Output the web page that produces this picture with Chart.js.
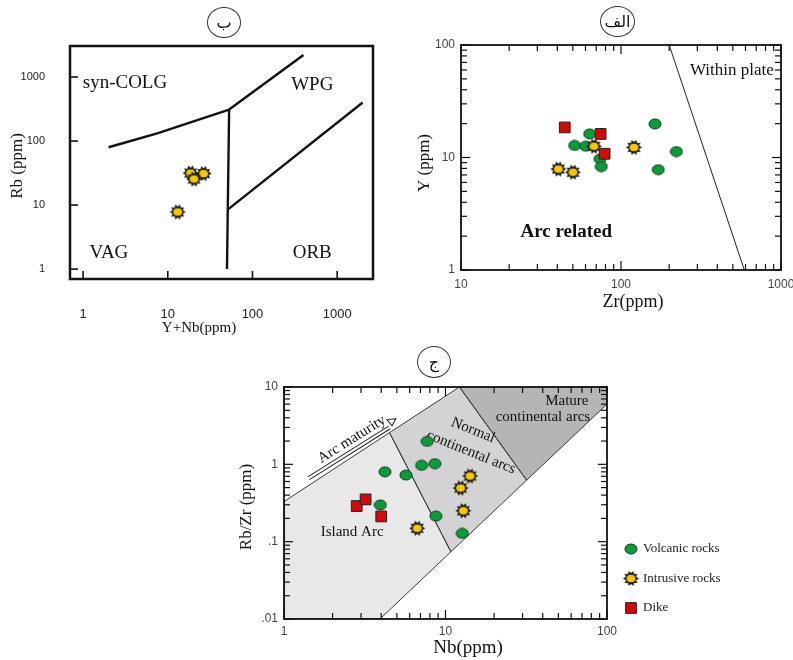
<!DOCTYPE html>
<html>
<head>
<meta charset="utf-8">
<script src="https://cdn.jsdelivr.net/npm/chart.js@4.4.1/dist/chart.umd.min.js"></script>
<style>
  html, body { margin: 0; padding: 0; background: #fff; }
  #wrap { position: relative; width: 793px; height: 660px; overflow: hidden; }
  canvas { position: absolute; }
  .tag { position: absolute; box-sizing: border-box; border: 1.3px solid #333; border-radius: 50%;
         display: flex; align-items: center; justify-content: center;
         font-family: "DejaVu Sans", sans-serif; font-size: 16px; color: #111; }
</style>
</head>
<body>
<div id="wrap">
  <canvas id="c1" width="400" height="340" style="left:0;top:0"></canvas>
  <canvas id="c2" width="393" height="330" style="left:400px;top:0"></canvas>
  <canvas id="c3" width="573" height="320" style="left:220px;top:340px"></canvas>
  <div class="tag" style="left:207px;top:7px;width:34px;height:31px">ب</div>
  <div class="tag" dir="rtl" style="left:600px;top:6px;width:35px;height:31px">الف</div>
  <div class="tag" style="left:417px;top:346px;width:34px;height:32px">ج</div>
</div>
<script>
// chart ب : Rb vs Y+Nb
const pearceIntrusive = [[18.6, 31.6], [26.5, 31], [20.4, 25.5], [13.1, 7.8]];
const pearceColgVag = [[2, 80], [7.5, 132], [53, 310]];
const pearceWpgColg = [[53, 310], [400, 2200]];
const pearceVagWpg = [[50, 1], [53, 310]];
const pearceOrbWpg = [[51, 8.5], [2000, 400]];
const pearceXTicks = [1, 10, 100, 1000];
const pearceYTicks = [1, 10, 100, 1000];

// chart الف : Y vs Zr
const zrVolcanic = [[63.7, 16.2], [51.3, 12.8], [60.2, 12.6], [74, 9.7], [75.3, 8.3], [163, 19.9], [222, 11.3], [171, 7.8]];
const zrIntrusive = [[67.8, 12.6], [120.5, 12.3], [40.6, 7.9], [50.1, 7.4]];
const zrDike = [[44.5, 18.5], [74.6, 16.2], [79, 10.8]];
const zrBoundary = [[200, 100], [590, 1]];
const zrXTicks = [10, 100, 1000];
const zrYTicks = [1, 10, 100];

// chart ج : Rb/Zr vs Nb
const nbVolcanic = [[4.22, 0.8], [5.69, 0.727], [3.95, 0.298], [7.7, 1.98], [7.11, 0.97], [8.6, 1.02], [8.72, 0.214], [12.7, 0.128]];
const nbIntrusive = [[14.2, 0.706], [12.4, 0.494], [12.9, 0.251], [6.68, 0.149]];
const nbDike = [[2.82, 0.289], [3.2, 0.352], [4.0, 0.212]];
const nbIslandArc = [[1, 0.01], [3.93, 0.01], [10.8, 0.074], [4.5, 2.57], [1, 0.33], [1, 0.01]];
const nbNormalArc = [[4.5, 2.57], [12.2, 10], [31.8, 0.623], [10.8, 0.074], [4.5, 2.57]];
const nbMatureArc = [[12.2, 10], [100, 10], [100, 6], [31.8, 0.623], [12.2, 10]];
const nbXTicks = [1, 10, 100];
const nbYTicks = [0.01, 0.1, 1, 10];

const seriesNames = ['Volcanic rocks', 'Intrusive rocks', 'Dike'];

const SERIF = '"Liberation Serif", "Times New Roman", serif';
const SANS = '"Liberation Sans", Arial, sans-serif';

const pts = a => a.map(([x, y]) => ({ x, y }));

function starMarker() {
    const c = document.createElement('canvas'); c.width = c.height = 17;
    const g = c.getContext('2d'), cx = 8.5, cy = 8.5;
    g.beginPath();
    for (let i = 0; i < 20; i++) {
        const r = i % 2 ? 5.4 : 8, t = i * Math.PI / 10;
        g.lineTo(cx + r * Math.cos(t), cy + r * Math.sin(t));
    }
    g.closePath(); g.fillStyle = '#1d1d1d'; g.fill();
    g.beginPath(); g.ellipse(cx, cy, 4.4, 3.8, 0, 0, Math.PI * 2);
    g.fillStyle = '#f4c800'; g.fill();
    return c;
}
function dotMarker() {
    const c = document.createElement('canvas'); c.width = 14; c.height = 12;
    const g = c.getContext('2d');
    g.beginPath(); g.ellipse(7, 6, 6, 5, 0, 0, Math.PI * 2);
    g.fillStyle = '#0b9b3b'; g.fill();
    g.lineWidth = 1; g.strokeStyle = '#0b3b18'; g.stroke();
    return c;
}
const STAR = starMarker(), DOT = dotMarker();

function volcanic(data) { return { label: seriesNames[0], data: pts(data), pointStyle: DOT, pointRadius: 6, order: 3 }; }
function intrusive(data) { return { label: seriesNames[1], data: pts(data), pointStyle: STAR, pointRadius: 7, order: 2 }; }
function dike(data) {
    return { label: seriesNames[2], data: pts(data), pointStyle: 'rect', pointRadius: 7.6,
        backgroundColor: '#d20a0a', borderColor: '#222', borderWidth: 1, order: 1 };
}
function line(data, w, color) {
    return { data: pts(data), showLine: true, pointRadius: 0, borderColor: color, borderWidth: w, fill: false, order: 4 };
}
function area(data, color) {
    return { data: pts(data), showLine: true, pointRadius: 0, borderColor: '#3a3a3a', borderWidth: 1,
        backgroundColor: color, fill: 'shape', order: 5 };
}

function logAxis(o) {
    return {
        type: 'logarithmic', min: o.min, max: o.max,
        grid: { display: false, drawTicks: false }, border: { display: false },
        afterBuildTicks: s => { s.ticks = o.ticks.map(v => ({ value: v })); },
        afterFit: s => {
            if (s.isHorizontal()) s.height = o.size; else s.width = o.size;
            s.paddingLeft = s.paddingRight = s.paddingTop = s.paddingBottom = 0;
        },
        ticks: { padding: o.pad, autoSkip: false, maxRotation: 0, minRotation: 0, color: o.color || '#222',
            font: { family: SANS, size: o.font }, callback: o.fmt || (v => String(v)) }
    };
}

function logMarks(sc, minor) {
    const out = [];
    const lo = Math.floor(Math.log10(sc.min)), hi = Math.ceil(Math.log10(sc.max));
    for (let e = lo; e <= hi; e++) {
        for (let m = 1; m <= 9; m++) {
            if (m > 1 && !minor) continue;
            const v = m * Math.pow(10, e);
            if (v < sc.min * 0.999 || v > sc.max * 1.001) continue;
            out.push([v, m === 1]);
        }
    }
    return out;
}

const decor = {
    id: 'decor',
    beforeDatasetsDraw(chart, args, o) {
        const { ctx, scales: { x, y } } = chart;
        (o.notes || []).forEach(n => {
            ctx.save();
            ctx.font = `${n.bold ? 'bold ' : ''}${n.size}px ${SERIF}`;
            ctx.fillStyle = '#111'; ctx.textAlign = 'center'; ctx.textBaseline = 'middle';
            ctx.translate(x.getPixelForValue(n.at[0]), y.getPixelForValue(n.at[1]));
            ctx.rotate((n.rot || 0) * Math.PI / 180);
            ctx.fillText(n.text, 0, 0);
            ctx.restore();
        });
    },
    afterDatasetsDraw(chart, args, o) {
        const { ctx, chartArea: a, scales: { x, y } } = chart;
        ctx.save();
        ctx.strokeStyle = '#111'; ctx.lineWidth = o.tickWidth || 1.2;
        (o.tickSides || []).forEach(side => {
            const horiz = side === 'top' || side === 'bottom';
            const sc = horiz ? x : y;
            logMarks(sc, o.minor).forEach(([v, major]) => {
                const p = sc.getPixelForValue(v), len = major ? o.majorLen : o.minorLen;
                ctx.beginPath();
                if (side === 'bottom') { ctx.moveTo(p, a.bottom); ctx.lineTo(p, a.bottom - len); }
                if (side === 'top') { ctx.moveTo(p, a.top); ctx.lineTo(p, a.top + len); }
                if (side === 'left') { ctx.moveTo(a.left, p); ctx.lineTo(a.left + len, p); }
                if (side === 'right') { ctx.moveTo(a.right, p); ctx.lineTo(a.right - len, p); }
                ctx.stroke();
            });
        });
        ctx.lineWidth = o.frame;
        ctx.strokeRect(a.left, a.top, a.right - a.left, a.bottom - a.top);

        if (o.arrow) {
            const x0 = x.getPixelForValue(o.arrow.from[0]), y0 = y.getPixelForValue(o.arrow.from[1]);
            const x1 = x.getPixelForValue(o.arrow.to[0]), y1 = y.getPixelForValue(o.arrow.to[1]);
            const ang = Math.atan2(y1 - y0, x1 - x0), len = Math.hypot(x1 - x0, y1 - y0);
            ctx.save();
            ctx.translate(x0, y0); ctx.rotate(ang);
            ctx.lineWidth = 1; ctx.strokeStyle = '#222';
            ctx.beginPath();
            ctx.moveTo(0, -1.6); ctx.lineTo(len, -1.6);
            ctx.moveTo(0, 1.6); ctx.lineTo(len, 1.6);
            ctx.stroke();
            ctx.beginPath();
            ctx.moveTo(len + 10, -4); ctx.lineTo(len + 2, -8); ctx.lineTo(len + 3, 0); ctx.closePath();
            ctx.stroke();
            ctx.font = `15px ${SERIF}`; ctx.fillStyle = '#111';
            ctx.textAlign = 'center'; ctx.textBaseline = 'alphabetic';
            ctx.fillText(o.arrow.text, len * 0.6, -6);
            ctx.restore();
        }

        (o.titles || []).forEach(t => {
            ctx.save();
            ctx.font = `${t.size}px ${SERIF}`; ctx.fillStyle = '#111';
            ctx.textAlign = 'center'; ctx.textBaseline = 'middle';
            ctx.translate(t.px, t.py); ctx.rotate((t.rot || 0) * Math.PI / 180);
            ctx.fillText(t.text, 0, 0);
            ctx.restore();
        });

        if (o.legend) {
            const L = o.legend;
            seriesNames.forEach((name, i) => {
                const ds = chart.data.datasets.find(d => d.label === name);
                if (!ds) return;
                const px = L.x, py = L.y + i * L.gap;
                ctx.save();
                ctx.fillStyle = ds.backgroundColor || '#000';
                ctx.strokeStyle = ds.borderColor || '#000';
                ctx.lineWidth = ds.borderWidth || 1;
                if (Chart.helpers && Chart.helpers.drawPoint) {
                    Chart.helpers.drawPoint(ctx, { pointStyle: ds.pointStyle, radius: ds.pointRadius,
                        borderWidth: ds.borderWidth || 0, rotation: 0 }, px, py);
                } else if (typeof ds.pointStyle === 'object') {
                    ctx.drawImage(ds.pointStyle, px - ds.pointStyle.width / 2, py - ds.pointStyle.height / 2);
                }
                ctx.restore();
                ctx.font = `13px ${SERIF}`; ctx.fillStyle = '#222';
                ctx.textAlign = 'left'; ctx.textBaseline = 'middle';
                ctx.fillText(name, px + 12, py);
            });
        }
        ctx.restore();
    }
};

function makeChart(id, datasets, scales, padding, deco) {
    return new Chart(document.getElementById(id), {
        type: 'scatter',
        data: { datasets },
        options: {
            responsive: false, animation: false, events: [],
            layout: { padding },
            scales,
            plugins: { legend: { display: false }, tooltip: { enabled: false },
                filler: { drawTime: 'beforeDraw' }, decor: deco }
        },
        plugins: [decor]
    });
}

// ب
makeChart('c1', [
    intrusive(pearceIntrusive),
    line(pearceColgVag, 2.4, '#111'),
    line(pearceWpgColg, 2.4, '#111'),
    line(pearceVagWpg, 2.4, '#111'),
    line(pearceOrbWpg, 2.4, '#111')
], {
    x: logAxis({ min: 0.72, max: 2650, ticks: pearceXTicks, size: 61, pad: 28, font: 13 }),
    y: logAxis({ min: 0.7, max: 3050, ticks: pearceYTicks, size: 70, pad: 25, font: 11 })
}, { top: 46, right: 27, left: 0, bottom: 0 }, {
    frame: 2.5, tickSides: ['bottom', 'left'], minor: false, majorLen: 8, minorLen: 0, tickWidth: 1.6,
    notes: [
        { text: 'syn-COLG', at: [3.12, 805], size: 19 },
        { text: 'WPG', at: [508, 750], size: 19 },
        { text: 'VAG', at: [2.02, 1.78], size: 19 },
        { text: 'ORB', at: [508, 1.78], size: 19 }
    ],
    titles: [
        { text: 'Rb (ppm)', px: 18, py: 166, size: 17, rot: -90 },
        { text: 'Y+Nb(ppm)', px: 199, py: 328, size: 15 }
    ]
});

// الف
makeChart('c2', [
    dike(zrDike),
    intrusive(zrIntrusive),
    volcanic(zrVolcanic),
    line(zrBoundary, 1, '#222')
], {
    x: logAxis({ min: 10, max: 1000, ticks: zrXTicks, size: 60, pad: 7, font: 12, color: '#444' }),
    y: logAxis({ min: 1, max: 100, ticks: zrYTicks, size: 61, pad: 6, font: 12, color: '#444' })
}, { top: 45, right: 12, left: 0, bottom: 0 }, {
    frame: 1.8, tickSides: ['bottom', 'top', 'left', 'right'], minor: true, majorLen: 9, minorLen: 6,
    notes: [
        { text: 'Within plate', at: [493, 58.9], size: 17 },
        { text: 'Arc related', at: [45.5, 2.17], size: 19, bold: true }
    ],
    titles: [
        { text: 'Y (ppm)', px: 25, py: 163, size: 17, rot: -90 },
        { text: 'Zr(ppm)', px: 233, py: 302, size: 18 }
    ]
});

// ج
makeChart('c3', [
    dike(nbDike),
    intrusive(nbIntrusive),
    volcanic(nbVolcanic),
    area(nbIslandArc, '#e8e8e8'),
    area(nbNormalArc, '#d3d3d3'),
    area(nbMatureArc, '#b5b5b5')
], {
    x: logAxis({ min: 1, max: 100, ticks: nbXTicks, size: 41, pad: 5, font: 12, color: '#444' }),
    y: logAxis({ min: 0.01, max: 10, ticks: nbYTicks, size: 64, pad: 6, font: 12, color: '#444',
        fmt: v => (v < 1 ? String(v).replace(/^0/, '') : String(v)) })
}, { top: 47, right: 186, left: 0, bottom: 0 }, {
    frame: 1.8, tickSides: ['bottom', 'top', 'left', 'right'], minor: true, majorLen: 9, minorLen: 6,
    notes: [
        { text: 'Island Arc', at: [2.64, 0.133], size: 15 },
        { text: 'Normal', at: [14.8, 2.75], size: 15, rot: 22 },
        { text: 'continental arcs', at: [14.4, 1.43], size: 15, rot: 22 },
        { text: 'Mature', at: [56.4, 6.58], size: 15 },
        { text: 'continental arcs', at: [40.1, 4.08], size: 15 }
    ],
    arrow: { from: [1.42, 0.66], to: [4.5, 3.0], text: 'Arc maturity' },
    titles: [
        { text: 'Rb/Zr (ppm)', px: 27, py: 167, size: 17, rot: -90 },
        { text: 'Nb(ppm)', px: 248, py: 308, size: 19 }
    ],
    legend: { x: 411, y: 209, gap: 29.5 }
});
</script>
</body>
</html>
